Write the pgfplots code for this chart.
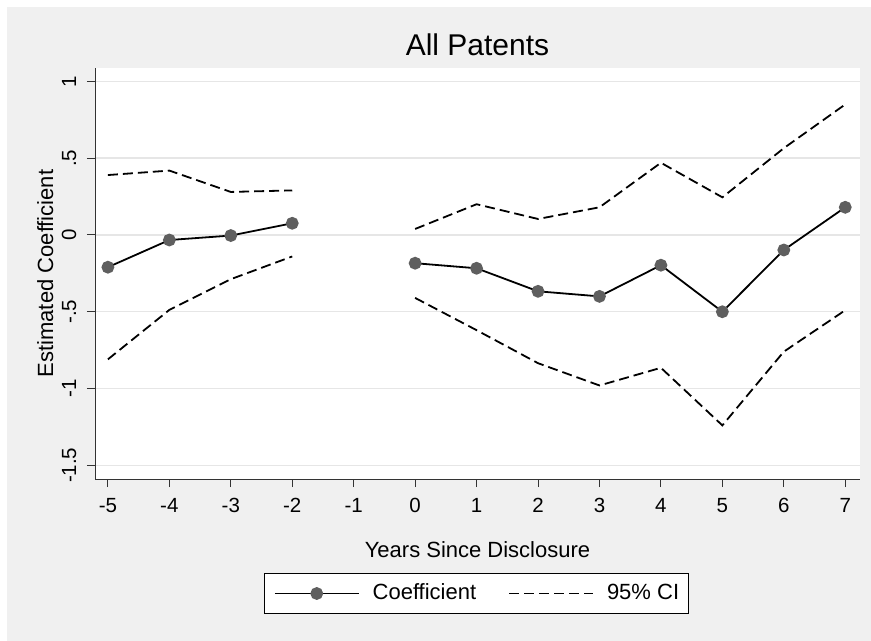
\documentclass[border=0pt]{standalone}
\usepackage{fontspec}
\setmainfont{Liberation Sans}
\usepackage{pgfplots}
\pgfplotsset{compat=1.18}
\usepackage{pgfplotstable}

\definecolor{bggray}{RGB}{240,240,240}
\definecolor{gridgray}{RGB}{230,230,230}
\definecolor{markgray}{RGB}{95,95,95}

% years since disclosure, coefficient, lower and upper 95% CI
\pgfplotstableread{
x    coef    lo      hi
-5  -0.210  -0.810  0.390
-4  -0.033  -0.488  0.419
-3  -0.004  -0.288  0.280
-2   0.076  -0.140  0.290
-1   nan     nan     nan
 0  -0.184  -0.410  0.039
 1  -0.217  -0.620  0.200
 2  -0.367  -0.835  0.104
 3  -0.400  -0.980  0.180
 4  -0.197  -0.865  0.470
 5  -0.500  -1.240  0.245
 6  -0.098  -0.760  0.565
 7   0.180  -0.490  0.850
}\coefs

\begin{document}
\begin{tikzpicture}
\fill[bggray] (7bp,0bp) rectangle (871bp,634bp);
\begin{axis}[
    at={(95bp,162bp)}, anchor=south west,
    scale only axis,
    width=765bp, height=411bp,
    xmin=-5.21, xmax=7.24,
    ymin=-1.589, ymax=1.087,
    axis lines*=left,
    axis line style={-, line width=0.9bp, color=black!80},
    axis background/.style={fill=white},
    tick align=outside,
    major tick length=8bp,
    every tick/.style={line width=0.9bp, color=black!80},
    xtick={-5,-4,-3,-2,-1,0,1,2,3,4,5,6,7},
    xticklabels={-5,-4,-3,-2,-1,0,1,2,3,4,5,6,7},
    ytick={-1.5,-1,-0.5,0,0.5,1},
    yticklabels={-1.5,-1,-.5,0,.5,1},
    ticklabel style={font=\fontsize{20.5bp}{24bp}\selectfont},
    xticklabel style={anchor=base, yshift=-25bp},
    yticklabel style={xshift=-11bp, anchor=base, rotate=90},
    ymajorgrids,
    major grid style={color=gridgray, line width=1.5bp},
    title={All Patents},
    title style={font=\fontsize{30bp}{36bp}\selectfont, at={(axis description cs:0.5,1)}, anchor=base, yshift=7bp},
    xlabel={Years Since Disclosure},
    xlabel style={font=\fontsize{22bp}{26bp}\selectfont, at={(axis description cs:0.5,0)}, anchor=base, yshift=-78bp},
    ylabel={Estimated Coefficient},
    ylabel style={font=\fontsize{22bp}{26bp}\selectfont, at={(axis description cs:-0.0549,0.5)}, anchor=base},
    unbounded coords=jump,
    legend columns=2,
    legend image code/.code={\draw[mark repeat=2,mark phase=2,#1] plot coordinates {(0bp,0bp) (42bp,0bp) (84bp,0bp)};},
    legend style={at={(axis description cs:0.4987,-0.2786)}, anchor=center,
        draw=black, line width=0.8bp, fill=white,
        font=\fontsize{22bp}{26bp}\selectfont,
        inner xsep=9bp, inner ysep=10bp,
        nodes={inner sep=0bp, text height=16bp, text depth=4bp},
        /tikz/every odd column/.append style={column sep=13bp},
        /tikz/every even column/.append style={column sep=32bp}},
]
\addplot[black, line width=1.8bp, mark=*, mark size=5.5bp,
    mark options={solid, fill=markgray, draw=markgray}]
    table[x=x, y=coef] {\coefs};
\addlegendentry{Coefficient}
\addplot[black, line width=1.8bp, dash pattern=on 10bp off 5bp]
    table[x=x, y=hi] {\coefs};
\addlegendentry{95\% CI}
\addplot[black, line width=1.8bp, dash pattern=on 10bp off 5bp, forget plot]
    table[x=x, y=lo] {\coefs};
\end{axis}
\pgfresetboundingbox
\path[use as bounding box] (0bp,0bp) rectangle (871bp,641bp);
\end{tikzpicture}
\end{document}
